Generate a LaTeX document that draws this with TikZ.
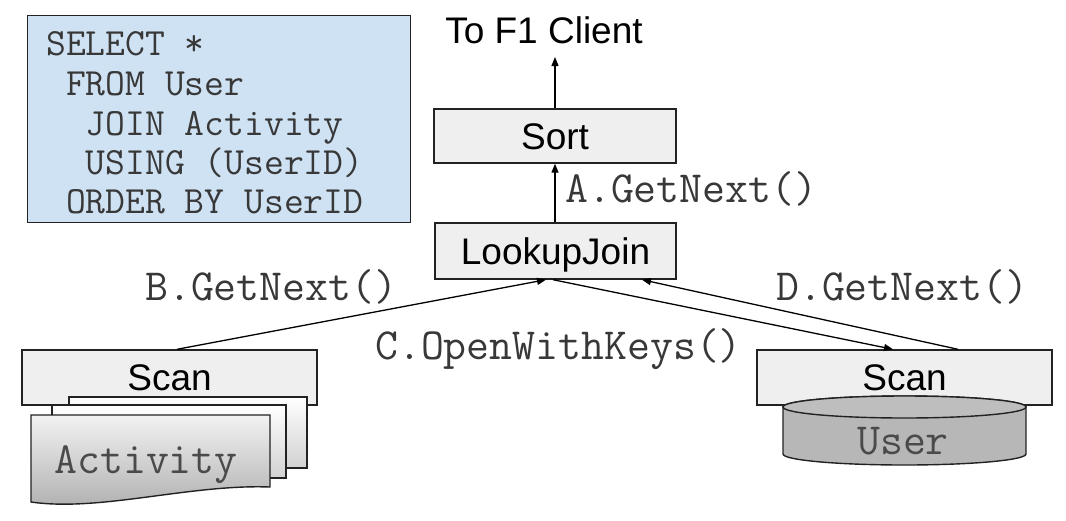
\documentclass[tikz,border=0pt]{standalone}
\usepackage{fontspec}
\setmainfont{Liberation Sans}
\usetikzlibrary{arrows.meta,calc}
\definecolor{sqlfill}{HTML}{CFE2F3}
\definecolor{boxfill}{HTML}{EFEFEF}
\definecolor{edge}{HTML}{222222}
\definecolor{cylfill}{HTML}{B7B7B7}
\definecolor{labelgray}{HTML}{383838}
\definecolor{datagray}{HTML}{4A4A4A}
\tikzset{
  opbox/.style={draw=edge, line width=1.4pt, fill=boxfill, inner sep=0pt,
    font=\fontsize{37}{40}\selectfont, text height=26pt, text depth=0pt},
  sqlline/.style={anchor=base west, inner sep=0pt, text=labelgray,
    font=\ttfamily\fontsize{38.5}{40}\selectfont},
  calllabel/.style={anchor=base west, inner sep=0pt, text=labelgray,
    font=\ttfamily\fontsize{44.5}{46}\selectfont},
  datalabel/.style={inner sep=0pt, text=datagray, text height=25pt, text depth=0pt,
    font=\ttfamily\fontsize{44.5}{46}\selectfont},
  conn/.style={draw=black, line width=1.3pt, -{Triangle[length=9pt,width=7pt]}},
  page/.style={draw=edge, line width=1.4pt, top color=white, bottom color=black!18},
}
\begin{document}
\begin{tikzpicture}[x=1pt,y=-1pt]
\useasboundingbox (0,0) rectangle (1066,520);

% SQL box
\node[draw=edge, line width=1.4pt, fill=sqlfill, minimum width=383pt, minimum height=207pt,
  inner sep=0pt, anchor=north west] (sql) at (27,15) {};
\node[sqlline] (sql1) at (46,55) {SELECT *};
\node[sqlline] (sql2) at (46,95) {\hphantom{X}FROM User};
\node[sqlline] (sql3) at (46,135) {\hphantom{XX}JOIN Activity};
\node[sqlline] (sql4) at (46,174) {\hphantom{XX}USING (UserID)};
\node[sqlline] (sql5) at (46,213) {\hphantom{X}ORDER BY UserID};

% operators
\node[opbox, minimum width=242pt, minimum height=54pt] (sort) at (555,136) {Sort};
\node[opbox, minimum width=241pt, minimum height=56pt] (lj) at (555.5,251) {LookupJoin};
\node[opbox, minimum width=295pt, minimum height=55pt] (lscan) at (169.5,377.5) {Scan};
\node[opbox, minimum width=295pt, minimum height=55pt] (rscan) at (904.5,377.5) {Scan};

% output
\node[anchor=base, inner sep=0pt, font=\fontsize{37}{40}\selectfont] (client) at (544,43) {To F1 Client};
\coordinate (clienttip) at (555,57);

% Activity stacked documents
\path[page] (69,397) rectangle (307,468);
\path[page] (52,405) rectangle (286,478);
\path[draw=edge, line width=1.4pt, top color=black!5, bottom color=black!32]
  (31,415) -- (270,415) -- (270,487)
  .. controls (190,484) and (100,512) .. (31,502) -- cycle;
\node[datalabel] (activity) at (146,461) {Activity};

% User cylinder
\path[draw=edge, line width=1.4pt, fill=cylfill]
  (783,407) -- (783,454) arc[start angle=180, end angle=360, x radius=121.5pt, y radius=11pt]
  -- (1026,407) arc[start angle=0, end angle=180, x radius=121.5pt, y radius=11pt] -- cycle;
\path[draw=edge, line width=1.4pt, fill=cylfill!90!white] (904.5,407) ellipse[x radius=121.5pt, y radius=11pt];
\node[datalabel] (user) at (903,442) {User};

% connectors
\draw[conn] (sort.north) -- (clienttip);
\draw[conn] (lj.north -| sort.north) -- (sort.south);
\draw[conn] ([xshift=7.5pt]lscan.north) -- ([xshift=-9.5pt]lj.south);
\draw[conn] ([xshift=-2.5pt]lj.south) -- ([xshift=-11.5pt]rscan.north);
\draw[conn] ([xshift=53.5pt]rscan.north) -- ([xshift=86.5pt]lj.south);

% call labels
\node[calllabel] (la) at (565,202) {A.GetNext()};
\node[calllabel] (lb) at (145,300) {B.GetNext()};
\node[calllabel] (lc) at (375,359) {C.OpenWithKeys()};
\node[calllabel] (ld) at (776,300) {D.GetNext()};
\end{tikzpicture}
\end{document}
